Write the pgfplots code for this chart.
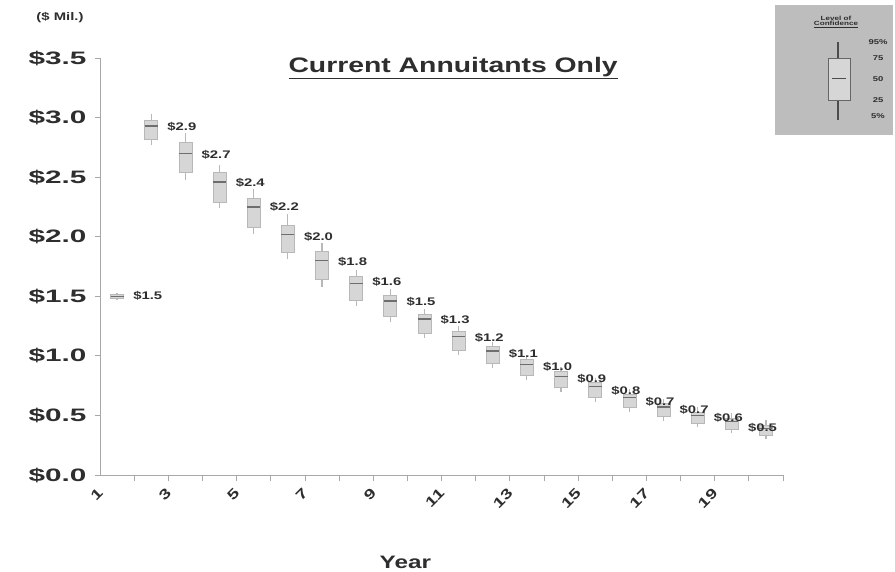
\documentclass[border=0pt]{standalone}
\usepackage{fontspec}
\setmainfont{Liberation Sans}[FakeStretch=1.35]
\newfontfamily\widefont{Liberation Sans}[FakeStretch=1.65]
\usepackage{pgfplots}
\usepackage{pgfplotstable}
\pgfplotsset{compat=1.18}
\usepgfplotslibrary{statistics}
\definecolor{boxfill}{HTML}{D6D6D6}
\definecolor{boxedge}{HTML}{B8B8B8}
\definecolor{medc}{HTML}{6E6E6E}
\definecolor{axisc}{HTML}{A8A8A8}
\definecolor{txt}{HTML}{2E2E2E}
\definecolor{legbg}{HTML}{BDBDBD}

\pgfplotstableread{
x y lab
1.47 1.50 1.5
2.47 2.92 2.9
3.47 2.69 2.7
4.47 2.45 2.4
5.47 2.25 2.2
6.47 2.00 2.0
7.47 1.79 1.8
8.47 1.62 1.6
9.47 1.45 1.5
10.47 1.30 1.3
11.47 1.15 1.2
12.47 1.02 1.1
13.47 0.91 1.0
14.47 0.81 0.9
15.47 0.71 0.8
16.47 0.61 0.7
17.47 0.55 0.7
18.47 0.48 0.6
19.47 0.40 0.5
}\labdata

% year, lower whisker, lower quartile, median, upper quartile, upper whisker
\newcommand{\bx}[6]{%
  \addplot[boxplot prepared={draw direction=y, draw position=#1, lower whisker=#2, lower quartile=#3,
      median=#4, upper quartile=#5, upper whisker=#6, box extend=0.38, whisker extend=0},
    fill=boxfill, draw=boxedge] coordinates {};}

\begin{document}
\begin{tikzpicture}
\path[use as bounding box] (0,0) rectangle (895pt,571pt);
\begin{axis}[
  at={(100pt,96pt)}, anchor=south west,
  scale only axis, width=683pt, height=417pt,
  xmin=0.5, xmax=20.5, ymin=0, ymax=3.5,
  axis x line*=bottom, axis y line*=left,
  axis line style={draw=axisc, -, line width=0.8pt},
  xtick={1,3,...,19},
  minor xtick={1.5,2.5,...,20.5},
  major x tick style={draw=none},
  minor x tick style={draw=axisc, line width=0.8pt},
  minor tick length=6pt,
  ytick={0,0.5,...,3.5},
  yticklabels={\$0.0,\$0.5,\$1.0,\$1.5,\$2.0,\$2.5,\$3.0,\$3.5},
  major y tick style={draw=axisc, line width=0.8pt},
  major tick length=5pt,
  tick align=outside,
  /pgf/number format/assume math mode=true,
  yticklabel style={font=\widefont\bfseries\fontsize{18}{18}\selectfont, text=txt, xshift=-5pt},
  xticklabel style={rotate=45, anchor=east, font=\bfseries\fontsize{14}{14}\selectfont, text=txt, xshift=-16pt, yshift=4pt},
  xlabel={Year},
  xlabel style={font=\bfseries\fontsize{18}{18}\selectfont, text=txt, at={(axis description cs:0.447,-0.185)}, anchor=north},
  title={\underline{Current Annuitants Only}},
  title style={font=\bfseries\fontsize{21}{21}\selectfont, text=txt, at={(axis description cs:0.517,0.995)}, anchor=north},
  clip=false,
  boxplot/every box/.style={fill=boxfill, draw=boxedge, line width=0.6pt},
  boxplot/every whisker/.style={draw=boxedge, line width=1.2pt},
  boxplot/every median/.style={draw=medc, line width=1.2pt},
]
\bx{1}{1.47}{1.48}{1.50}{1.52}{1.53}
\bx{2}{2.77}{2.82}{2.93}{2.98}{3.03}
\bx{3}{2.48}{2.54}{2.70}{2.79}{2.87}
\bx{4}{2.24}{2.29}{2.46}{2.54}{2.60}
\bx{5}{2.02}{2.08}{2.25}{2.32}{2.40}
\bx{6}{1.81}{1.87}{2.02}{2.10}{2.19}
\bx{7}{1.58}{1.64}{1.80}{1.88}{1.95}
\bx{8}{1.42}{1.47}{1.61}{1.67}{1.72}
\bx{9}{1.28}{1.33}{1.46}{1.51}{1.56}
\bx{10}{1.15}{1.19}{1.31}{1.35}{1.39}
\bx{11}{1.01}{1.05}{1.16}{1.21}{1.25}
\bx{12}{0.90}{0.94}{1.04}{1.08}{1.12}
\bx{13}{0.80}{0.84}{0.93}{0.97}{1.01}
\bx{14}{0.70}{0.74}{0.83}{0.87}{0.91}
\bx{15}{0.61}{0.65}{0.74}{0.78}{0.81}
\bx{16}{0.53}{0.57}{0.65}{0.68}{0.72}
\bx{17}{0.45}{0.49}{0.57}{0.60}{0.64}
\bx{18}{0.40}{0.43}{0.50}{0.53}{0.57}
\bx{19}{0.35}{0.38}{0.45}{0.48}{0.52}
\bx{20}{0.30}{0.33}{0.39}{0.42}{0.46}
\addplot[draw=none, mark=none,
  nodes near coords={\$\pgfmathprintnumber[fixed,fixed zerofill,precision=1]{\pgfplotspointmeta}},
  nodes near coords align=horizontal,
  point meta=explicit,
  every node near coord/.append style={font=\bfseries\fontsize{11}{11}\selectfont, text=txt, inner sep=0pt}]
  table[x=x, y=y, meta=lab] {\labdata};
\end{axis}
% unit label
\node[font=\bfseries\fontsize{11}{11}\selectfont, text=txt] at (60pt,553pt) {(\$ Mil.)};
% legend picture
\fill[legbg] (775pt,436pt) rectangle (893pt,566pt);
\node[font=\bfseries\fontsize{6}{6}\selectfont, text=txt, align=center] at (836pt,549pt) {Level of\\[-1pt]\underline{Confidence}};
\draw[black!70, line width=1.2pt] (838pt,451pt) -- (838pt,529pt);
\filldraw[fill=boxfill, draw=black!60, line width=0.6pt] (828pt,471pt) rectangle (850pt,513pt);
\draw[black!70, line width=1pt] (832pt,492pt) -- (846pt,492pt);
\begin{scope}[font=\bfseries\fontsize{7}{7}\selectfont, text=txt]
\node at (878pt,529pt) {95\%};
\node at (878pt,513pt) {75};
\node at (878pt,492pt) {50};
\node at (878pt,471pt) {25};
\node at (878pt,455pt) {5\%};
\end{scope}
\end{tikzpicture}
\end{document}
